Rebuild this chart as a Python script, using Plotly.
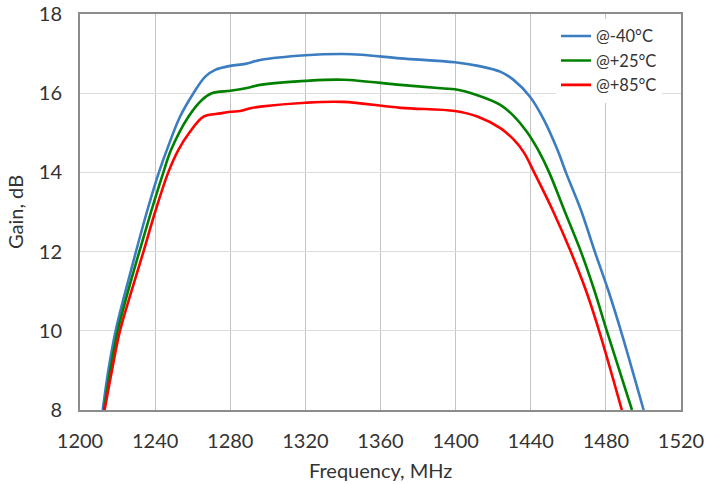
import plotly.graph_objects as go

# -40°C
f_m40 = [1212.1, 1215.1, 1219.0, 1224.2, 1229.8, 1235.6, 1242.0, 1246.5, 1253.3, 1260.4, 1266.7, 1272, 1280, 1288, 1296, 1320, 1340, 1350, 1370.7, 1399.6, 1412, 1424, 1431, 1439.6, 1447.1, 1454.2, 1458.7, 1466.7, 1474.1, 1481.2, 1488.0, 1500.1]
g_m40 = [8, 9, 10, 11, 12, 13, 14, 14.6, 15.41, 16, 16.42, 16.59, 16.69, 16.74, 16.84, 16.96, 16.99, 16.97, 16.88, 16.78, 16.69, 16.54, 16.33, 15.91, 15.32, 14.57, 14, 13.05, 12, 11.03, 10, 8]
# +25°C
f_p25 = [1212.8, 1216.1, 1220.1, 1225.6, 1231.6, 1237.8, 1244.4, 1248.5, 1257.8, 1264.9, 1270.2, 1280, 1285.3, 1290.7, 1296, 1320, 1340, 1370.7, 1393.8, 1399.6, 1411.6, 1424, 1431, 1438, 1444, 1449.8, 1457.8, 1466.7, 1473.8, 1480.5, 1493.9]
g_p25 = [8, 9, 10, 11, 12, 13, 14, 14.57, 15.41, 15.83, 16, 16.06, 16.1, 16.15, 16.21, 16.31, 16.34, 16.21, 16.12, 16.1, 15.95, 15.7, 15.42, 15.02, 14.56, 14, 13.05, 12, 11.03, 10, 8]
# +85°C
f_p85 = [1213.1, 1217.0, 1221.3, 1227.4, 1233.8, 1240.0, 1247.0, 1252.4, 1258.0, 1265.8, 1274.7, 1280, 1285.3, 1290.7, 1296, 1320, 1340, 1370.7, 1399.6, 1411.6, 1424, 1431.1, 1436.4, 1441.8, 1451.6, 1461.3, 1469.3, 1476.4, 1488.5]
g_p85 = [8, 9, 10, 11, 12, 13, 14, 14.57, 14.99, 15.41, 15.49, 15.53, 15.55, 15.62, 15.66, 15.76, 15.78, 15.63, 15.55, 15.41, 15.11, 14.82, 14.5, 14, 13.05, 12, 11.03, 10, 8]

x_ticks = [1200, 1240, 1280, 1320, 1360, 1400, 1440, 1480, 1520]
y_ticks = [8, 10, 12, 14, 16, 18]

series = [
    ("@-40°C", f_m40, g_m40, "#3b7dc0"),
    ("@+25°C", f_p25, g_p25, "#008000"),
    ("@+85°C", f_p85, g_p85, "#ff0000"),
]

fig = go.Figure()
for name, xs, ys, col in series:
    fig.add_trace(go.Scatter(x=xs, y=ys, mode="lines", name=name,
                             line=dict(color=col, width=2.6, shape="spline", smoothing=1.0)))

font = "Lato, 'Open Sans', sans-serif"
txt = "#333333"
fig.update_layout(
    width=706, height=484,
    margin=dict(l=80, r=25, t=14, b=74, autoexpand=False),
    paper_bgcolor="white", plot_bgcolor="white",
    font=dict(family=font, size=20, color=txt),
    showlegend=True,
    legend=dict(x=0.792, y=0.988, xanchor="left", yanchor="top",
                bgcolor="white", font=dict(size=16.5, color=txt),
                tracegroupgap=0, borderwidth=0),
    xaxis=dict(range=[1200, 1520], tickvals=x_ticks, showgrid=True, gridcolor="#c4c4c4", gridwidth=1.3,
               showline=True, linecolor="#8c8c8c", linewidth=2, mirror=True, ticks="",
               automargin=False, zeroline=False, ticklabelstandoff=12, ticklabeloverflow="allow",
               tickfont=dict(size=20, color=txt)),
    yaxis=dict(range=[8, 18], tickvals=y_ticks, showgrid=True, gridcolor="#dcdcdc", gridwidth=1.3,
               showline=True, linecolor="#8c8c8c", linewidth=2, mirror=True, ticks="",
               automargin=False, zeroline=False, ticklabelstandoff=12, ticklabeloverflow="allow",
               tickfont=dict(size=20, color=txt)),
    annotations=[
        dict(text="Frequency, MHz", xref="paper", yref="paper", x=0.5, y=0, yshift=-60,
             xanchor="center", yanchor="middle", showarrow=False, font=dict(size=20, color=txt)),
        dict(text="Gain, dB", xref="paper", yref="paper", x=0, xshift=-65, y=0.5,
             xanchor="center", yanchor="middle", showarrow=False, textangle=-90,
             font=dict(size=20, color=txt)),
    ],
)
fig.write_html("out.html", config={"displayModeBar": False},
               post_script="document.body.style.margin='0';document.body.style.overflow='hidden';")
